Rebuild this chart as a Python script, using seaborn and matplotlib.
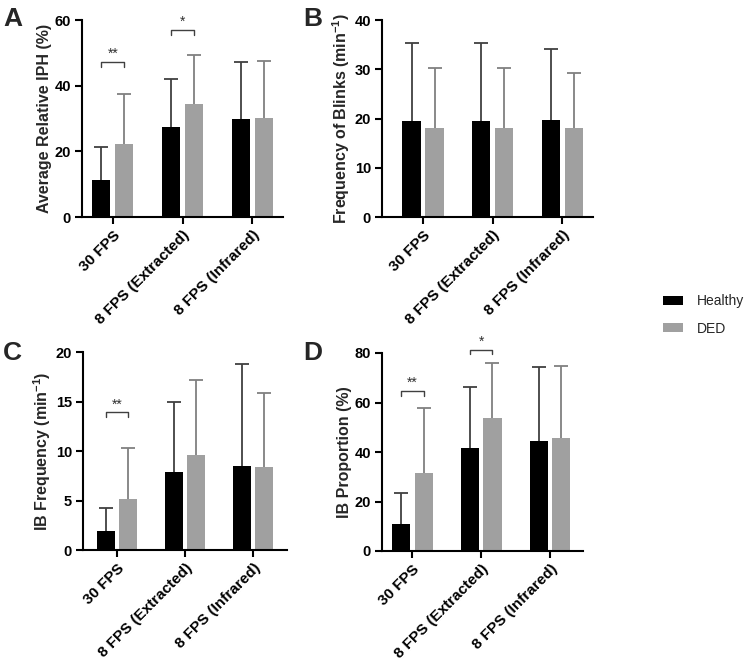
import numpy as np
import pandas as pd
import matplotlib
matplotlib.use("Agg")
import matplotlib.pyplot as plt
import seaborn as sns
from matplotlib.patches import Patch

sns.set_style("ticks")
plt.rcParams['font.family'] = ['Liberation Sans', 'DejaVu Sans']
plt.rcParams['mathtext.fontset'] = 'custom'
plt.rcParams['mathtext.rm'] = 'Liberation Sans:bold'
plt.rcParams['mathtext.default'] = 'rm'

categories = ["30 FPS", "8 FPS (Extracted)", "8 FPS (Infrared)"]
groups = ["Healthy", "DED"]

# Panel A: Average Relative IPH (%)
a_healthy = [11.4, 27.3, 30.0]
a_healthy_sd = [9.8, 14.6, 17.3]
a_ded = [22.3, 34.3, 30.1]
a_ded_sd = [15.2, 14.9, 17.5]

# Panel B: Frequency of Blinks (min^-1)
b_healthy = [19.5, 19.5, 19.7]
b_healthy_sd = [15.9, 15.9, 14.4]
b_ded = [18.1, 18.1, 18.1]
b_ded_sd = [12.1, 12.1, 11.1]

# Panel C: IB Frequency (min^-1)
c_healthy = [1.9, 7.9, 8.5]
c_healthy_sd = [2.3, 7.1, 10.3]
c_ded = [5.2, 9.6, 8.4]
c_ded_sd = [5.1, 7.6, 7.5]

# Panel D: IB Proportion (%)
d_healthy = [10.8, 41.6, 44.5]
d_healthy_sd = [12.8, 24.8, 29.7]
d_ded = [31.4, 53.7, 45.6]
d_ded_sd = [26.2, 22.1, 29.0]

# significance brackets: (category index, y level, label)
a_sig = [(0, 47.2, "**"), (1, 56.9, "*")]
c_sig = [(0, 13.9, "**")]
d_sig = [(0, 64.8, "**"), (1, 81.4, "*")]

colors = {"Healthy": "#000000", "DED": "#a0a0a0"}
err_colors = {"Healthy": "#404040", "DED": "#808080"}

fig = plt.figure(figsize=(7.5, 6.6), dpi=100)
W, H = 750.0, 660.0

def axpos(l, r, top, bottom):
    return [l / W, 1 - bottom / H, (r - l) / W, (bottom - top) / H]

panels = [
    dict(letter="A", pos=axpos(82, 283, 20, 217), xlim=(-0.44, 2.44), ylim=(0, 60), yt=[0, 20, 40, 60],
         h=a_healthy, hs=a_healthy_sd, d=a_ded, ds=a_ded_sd, sig=a_sig,
         ylabel="Average Relative IPH (%)", lpos=(3, 26)),
    dict(letter="B", pos=axpos(382, 593, 20, 217), xlim=(-0.59, 2.44), ylim=(0, 40), yt=[0, 10, 20, 30, 40],
         h=b_healthy, hs=b_healthy_sd, d=b_ded, ds=b_ded_sd, sig=[],
         ylabel="Frequency of Blinks (min$^{-1}$)", lpos=(303, 26)),
    dict(letter="C", pos=axpos(83, 287, 352, 550), xlim=(-0.5, 2.5), ylim=(0, 20), yt=[0, 5, 10, 15, 20],
         h=c_healthy, hs=c_healthy_sd, d=c_ded, ds=c_ded_sd, sig=c_sig,
         ylabel="IB Frequency (min$^{-1}$)", lpos=(3, 360)),
    dict(letter="D", pos=axpos(382, 583, 353, 551), xlim=(-0.44, 2.48), ylim=(0, 80), yt=[0, 20, 40, 60, 80],
         h=d_healthy, hs=d_healthy_sd, d=d_ded, ds=d_ded_sd, sig=d_sig,
         ylabel="IB Proportion (%)", lpos=(303, 360)),
]

for p in panels:
    ax = fig.add_axes(p["pos"])
    df = pd.DataFrame({
        "cat": categories * 2,
        "group": ["Healthy"] * 3 + ["DED"] * 3,
        "val": list(p["h"]) + list(p["d"]),
    })
    sns.barplot(data=df, x="cat", y="val", hue="group", order=categories, hue_order=groups,
                palette=colors, width=0.66, gap=0.2, linewidth=0, errorbar=None,
                legend=False, ax=ax)
    centers = {}
    for cont, g, sd in zip(ax.containers, groups, [p["hs"], p["ds"]]):
        xs = [b.get_x() + b.get_width() / 2 for b in cont]
        hs = [b.get_height() for b in cont]
        centers[g] = xs
        _, caps, _ = ax.errorbar(xs, hs, yerr=[np.zeros(3), sd], fmt="none",
                                 ecolor=err_colors[g], elinewidth=1.3, capsize=5, capthick=1.3, zorder=1)
        if len(caps) == 2:
            caps[0].set_visible(False)
    for ci, y, lab in p["sig"]:
        x0, x1 = centers["Healthy"][ci], centers["DED"][ci]
        dy = (p["ylim"][1] - p["ylim"][0]) * 0.025
        ax.plot([x0, x0, x1, x1], [y - dy, y, y, y - dy], color="#404040", lw=1.0, clip_on=False)
        ax.text((x0 + x1) / 2, y + dy * 0.2, lab, ha="center", va="bottom", fontsize=10,
                color="#303030", clip_on=False)
    ax.set_xlim(*p["xlim"])
    ax.set_ylim(*p["ylim"])
    ax.set_yticks(p["yt"])
    ax.set_xlabel("")
    ax.set_ylabel(p["ylabel"], fontsize=11.5, fontweight="bold", labelpad=2)
    ax.set_xticks(range(3))
    ax.set_xticklabels(categories, rotation=45, ha="right", rotation_mode="anchor",
                       fontsize=11, fontweight="bold")
    for t in ax.get_yticklabels():
        t.set_fontweight("bold")
        t.set_fontsize(10.5)
    ax.tick_params(axis="both", direction="out", length=5, width=1.5, colors="black", pad=3)
    sns.despine(ax=ax)
    for s in ["left", "bottom"]:
        ax.spines[s].set_linewidth(1.5)
        ax.spines[s].set_color("black")
    fig.text(p["lpos"][0] / W, 1 - p["lpos"][1] / H, p["letter"], fontsize=19,
             fontweight="bold", ha="left", va="baseline")

handles = [Patch(facecolor=colors[g], edgecolor="none", label=g) for g in groups]
fig.legend(handles=handles, loc="center left", bbox_to_anchor=(650 / W, 1 - 315 / H),
           frameon=False, fontsize=10, handlelength=1.45, handleheight=0.6,
           labelspacing=0.95, handletextpad=1.0)

fig.savefig("out.png", dpi=100)
